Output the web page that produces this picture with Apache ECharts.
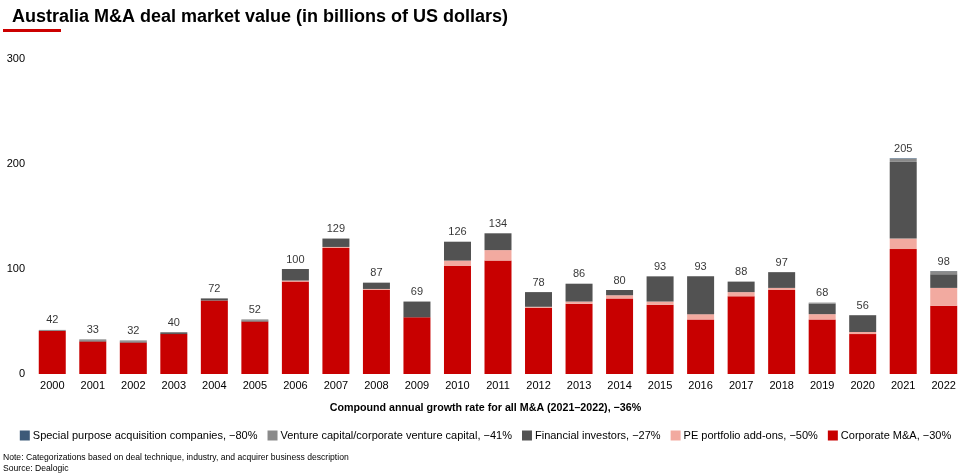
<!DOCTYPE html>
<html>
<head>
<meta charset="utf-8">
<script src="https://cdn.jsdelivr.net/npm/echarts@6/dist/echarts.min.js"></script>
<style>
  html, body { margin: 0; padding: 0; background: #fff; }
  #chart { width: 971px; height: 476px; }
</style>
</head>
<body>
<div id="chart"></div>
<script>
// Lata i wartości segmentów (mld USD)
const years = ["2000", "2001", "2002", "2003", "2004", "2005", "2006", "2007", "2008", "2009", "2010", "2011",
    "2012", "2013", "2014", "2015", "2016", "2017", "2018", "2019", "2020", "2021", "2022"];
const corporate = [41, 31, 30, 38, 70, 50, 88, 120, 80, 54, 103, 108, 63, 67, 72, 66, 52, 74, 80, 52, 38, 119, 65];
const peAddOns = [0, 0, 0, 0, 0, 0, 1, 1, 1, 0, 5, 10, 1, 2, 3, 3, 5, 4, 2, 5, 2, 10, 17];
const financial = [0, 1, 1, 1, 2, 1, 11, 8, 6, 15, 18, 16, 14, 17, 5, 24, 36, 10, 15, 10, 16, 73, 13];
const ventureCap = [1, 1, 1, 1, 0, 1, 0, 0, 0, 0, 0, 0, 0, 0, 0, 0, 0, 0, 0, 1, 0, 3, 3];
const spac = [0, 0, 0, 0, 0, 0, 0, 0, 0, 0, 0, 0, 0, 0, 0, 0, 0, 0, 0, 0, 0, 0.5, 0.1];
const totals = [42, 33, 32, 40, 72, 52, 100, 129, 87, 69, 126, 134, 78, 86, 80, 93, 93, 88, 97, 68, 56, 205, 98];
const yTicks = [0, 100, 200, 300];

const FONT = "Liberation Sans, Arial, sans-serif";

const chart = echarts.init(document.getElementById("chart"));

function stackSeries(name, data, color) {
    return {
        name: name,
        type: "bar",
        stack: "total",
        data: data,
        barWidth: 27,
        itemStyle: { color: color },
        emphasis: { disabled: true }
    };
}

const option = {
    animation: false,
    textStyle: { fontFamily: FONT },
    title: [{
        text: "Australia M&A deal market value (in billions of US dollars)",
        left: 7,
        top: 3,
        textStyle: { fontSize: 18, fontWeight: "bold", color: "#000", fontFamily: FONT }
    }, {
        text: "Compound annual growth rate for all M&A (2021\u20132022), \u221236%",
        left: "center",
        top: 398,
        textStyle: { fontSize: 10.7, fontWeight: "bold", color: "#000", fontFamily: FONT }
    }],
    graphic: [
        { type: "rect", shape: { x: 3, y: 29, width: 58, height: 3 }, style: { fill: "#cc0000" } },
        { type: "text", left: 3, top: 453, style: { text: "Note: Categorizations based on deal technique, industry, and acquirer business description", fontSize: 8.6, fill: "#000", fontFamily: FONT } },
        { type: "text", left: 3, top: 464, style: { text: "Source: Dealogic", fontSize: 8.6, fill: "#000", fontFamily: FONT } }
    ],
    legend: {
        data: ["Special purpose acquisition companies, \u221280%", "Venture capital/corporate venture capital, \u221241%",
            "Financial investors, \u221227%", "PE portfolio add-ons, \u221250%", "Corporate M&A, \u221230%"],
        left: "center",
        top: 425,
        itemWidth: 10,
        itemHeight: 10,
        itemGap: 10,
        icon: "rect",
        textStyle: { fontSize: 11, color: "#000", padding: [0, 0, 0, -2] }
    },
    grid: { left: 32, right: 7, top: 59, bottom: 102, containLabel: false },
    xAxis: {
        type: "category",
        data: years,
        axisLine: { show: false },
        axisTick: { show: false },
        axisLabel: { fontSize: 11, color: "#000", margin: 6, interval: 0 }
    },
    yAxis: {
        type: "value",
        min: yTicks[0],
        max: yTicks[yTicks.length - 1],
        interval: 100,
        splitLine: { show: false },
        axisLine: { show: false },
        axisTick: { show: false },
        axisLabel: { fontSize: 11, color: "#000", margin: 7 }
    },
    series: [
        stackSeries("Corporate M&A, \u221230%", corporate, "#c80000"),
        stackSeries("PE portfolio add-ons, \u221250%", peAddOns, "#f2aaa0"),
        stackSeries("Financial investors, \u221227%", financial, "#525252"),
        stackSeries("Venture capital/corporate venture capital, \u221241%", ventureCap, "#8a8a8a"),
        stackSeries("Special purpose acquisition companies, \u221280%", spac, "#3d5a78"),
        {
            name: "Suma",
            type: "scatter",
            data: totals,
            symbolSize: 0,
            silent: true,
            label: { show: true, position: "top", distance: 4, fontSize: 11, color: "#000" }
        }
    ]
};

chart.setOption(option);
</script>
</body>
</html>
